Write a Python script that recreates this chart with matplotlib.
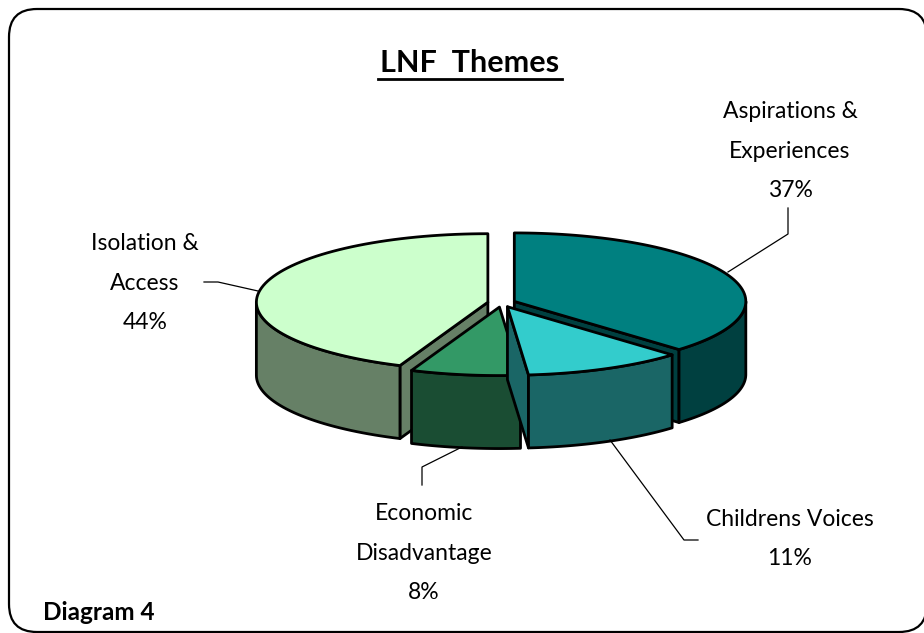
import numpy as np
import matplotlib
matplotlib.use("Agg")
import matplotlib.pyplot as plt
from matplotlib.patches import FancyBboxPatch, Polygon

# percent shares (labels show them rounded)
names = ["Aspirations &\nExperiences", "Childrens Voices", "Economic\nDisadvantage", "Isolation &\nAccess"]
shares = [37.4, 11.15, 7.65, 43.8]
top_colors = ["#008080", "#33CCCC", "#339966", "#CCFFCC"]
side_colors = ["#004040", "#1A6666", "#1A4D33", "#668066"]
draw_order = [0, 3, 2, 1]

# label anchors (pixels) and leader lines
label_pos = [(790, 151), (790, 539), (424, 553), (145, 283)]
leaders = [
    ([728, 788, 788], [272, 234, 208]),
    ([610, 684, 698], [440, 540, 540]),
    ([462, 422, 422], [447, 467, 485]),
    ([204, 218, 258], [282, 282, 291]),
]

cx, cy = 501.5, 303
rx, ry = 231.5, 68.5
depth = 73
explode = 0.06
font = "Lato"

fig = plt.figure(figsize=(9.24, 6.33), dpi=100)
ax = fig.add_axes([0, 0, 1, 1])
ax.set_xlim(0, 924)
ax.set_ylim(633, 0)
ax.axis("off")

ax.add_patch(FancyBboxPatch((34, 34), 868, 573, boxstyle="round,pad=25,rounding_size=28",
                            fc="white", ec="black", lw=1.6, clip_on=False))


def point(ox, oy, a):
    return ox + rx * np.sin(a), oy - ry * np.cos(a)


edges = np.radians(np.cumsum([0] + shares) * 3.6)
for i in draw_order:
    a0, a1 = edges[i], edges[i + 1]
    mid = (a0 + a1) / 2
    ox = cx + explode * rx * np.sin(mid)
    oy = cy - explode * ry * np.cos(mid)

    # radial walls, only when they face the viewer
    if np.sin(a1) > 0.01:
        x, y = point(ox, oy, a1)
        ax.add_patch(Polygon([(ox, oy), (x, y), (x, y + depth), (ox, oy + depth)],
                             fc=side_colors[i], ec="black", lw=2, joinstyle="round"))
    if np.sin(a0) < -0.01:
        x, y = point(ox, oy, a0)
        ax.add_patch(Polygon([(ox, oy), (x, y), (x, y + depth), (ox, oy + depth)],
                             fc=side_colors[i], ec="black", lw=2, joinstyle="round"))

    # outer wall, front half of the rim
    w0, w1 = max(a0, np.pi / 2), min(a1, 3 * np.pi / 2)
    if w1 > w0:
        t = np.linspace(w0, w1, 40)
        x, y = point(ox, oy, t)
        wall = np.r_[np.c_[x, y], np.c_[x, y + depth][::-1]]
        ax.add_patch(Polygon(wall, fc=side_colors[i], ec="black", lw=2, joinstyle="round"))

    # top face
    t = np.linspace(a0, a1, 80)
    x, y = point(ox, oy, t)
    top = np.r_[[[ox, oy]], np.c_[x, y]]
    ax.add_patch(Polygon(top, fc=top_colors[i], ec="black", lw=2, joinstyle="round"))

for (lx, ly) in leaders:
    ax.plot(lx, ly, color="black", lw=0.9, zorder=5)

for name, share, (x, y) in zip(names, shares, label_pos):
    ax.text(x, y, f"{name}\n{share:.0f}%", ha="center", va="center", family=font,
            fontsize=16.5, color="black", linespacing=2.1)

ax.text(470, 63, "LNF  Themes", ha="center", va="center", family=font, fontweight="bold",
        fontsize=22, color="black")
ax.plot([378, 562], [79, 79], color="black", lw=2)
ax.text(43, 613, "Diagram 4", ha="left", va="center", family=font, fontweight="bold",
        fontsize=17.5, color="black")

fig.savefig("out.png", dpi=100)
